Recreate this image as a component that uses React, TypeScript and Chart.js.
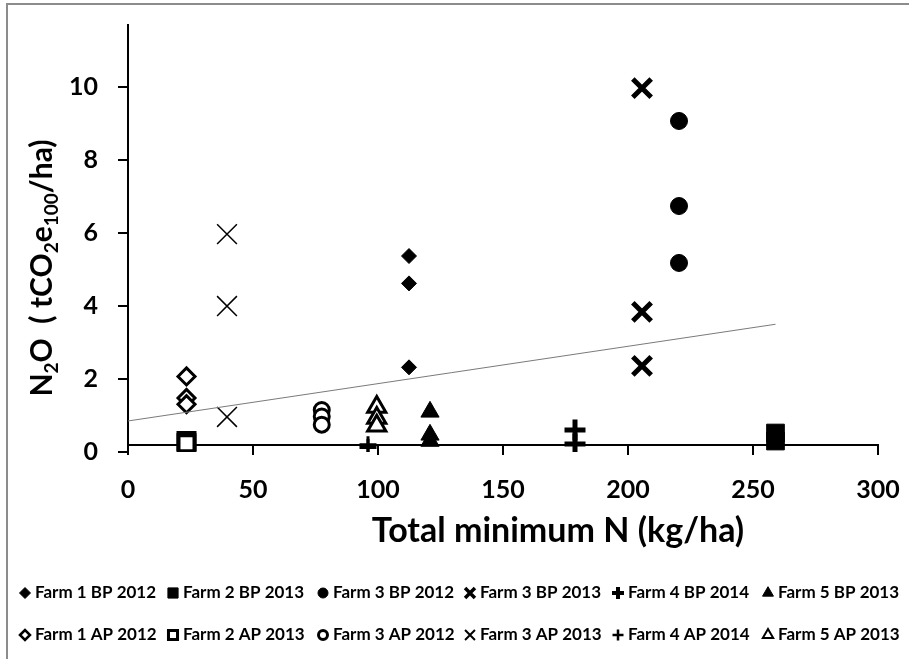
import React, { useEffect, useRef } from "react";
import { Chart, registerables } from "chart.js";
import { drawPoint } from "chart.js/helpers";

Chart.register(...registerables);

// ---- data ----
const xTickValues = [0, 50, 100, 150, 200, 250, 300];
const yTickValues = [0, 2, 4, 6, 8, 10];

const farm1BP2012X = 112.4;
const farm1BP2012Y = [5.37, 4.62, 2.32];
const farm2BP2013X = 259;
const farm2BP2013Y = [0.52, 0.3];
const farm3BP2012X = 220.4;
const farm3BP2012Y = [9.07, 6.74, 5.18];
const farm3BP2013X = 205.6;
const farm3BP2013Y = [9.97, 3.84, 2.36];
const farm4BP2014X = 178.8;
const farm4BP2014Y = [0.6, 0.22];
const farm5BP2013X = 120.8;
const farm5BP2013Y = [1.1, 0.47, 0.3];

const farm1AP2012X = 23.4;
const farm1AP2012Y = [2.07, 1.48, 1.31];
const farm2AP2013X = 23.4;
const farm2AP2013Y = [0.3, 0.24];
const farm3AP2012X = 77.5;
const farm3AP2012Y = [1.15, 0.97, 0.75];
const farm3AP2013X = 39.6;
const farm3AP2013Y = [5.97, 4.0, 0.96];
const farm4AP2014X = 96;
const farm4AP2014Y = [0.2, 0.12];
const farm5AP2013X = 99.5;
const farm5AP2013Y = [1.23, 0.93, 0.72];

const trendX = [0, 259];
const trendY = [0.85, 3.5];

const xTitle = "Total minimum N (kg/ha)";

const FONT = "Lato";

export default function App() {
  const ref = useRef<HTMLCanvasElement>(null);

  useEffect(() => {
    const canvas = ref.current;
    if (!canvas) return;
    const mk = (x: number, ys: number[]) => ys.map((y) => ({ x, y }));
    const K = "#000000";
    const W = "#ffffff";
    const ds = (
      label: string,
      data: { x: number; y: number }[],
      style: string,
      r: number,
      fill: string,
      bw: number,
      lr: number,
      lbw: number
    ) => ({
      label,
      data,
      pointStyle: style,
      pointRadius: r,
      pointHoverRadius: r,
      pointBackgroundColor: fill,
      pointBorderColor: K,
      pointBorderWidth: bw,
      backgroundColor: fill,
      borderColor: K,
      borderWidth: bw,
      showLine: false,
      legendRadius: lr,
      legendBorder: lbw,
    });

    const datasets: any[] = [
      {
        label: "trend",
        data: trendX.map((x, i) => ({ x, y: trendY[i] })),
        showLine: true,
        pointRadius: 0,
        borderColor: "#7a7a7a",
        borderWidth: 1,
        isTrend: true,
      },
      ds("Farm 1 BP 2012", mk(farm1BP2012X, farm1BP2012Y), "rectRot", 7.5, K, 1, 5.5, 1),
      ds("Farm 2 BP 2013", mk(farm2BP2013X, farm2BP2013Y), "rect", 12.5, K, 1, 7.2, 1),
      ds("Farm 3 BP 2012", mk(farm3BP2012X, farm3BP2012Y), "circle", 8.5, K, 1, 5, 1),
      ds("Farm 3 BP 2013", mk(farm3BP2013X, farm3BP2013Y), "crossRot", 13, K, 5, 7, 3.5),
      ds("Farm 4 BP 2014", mk(farm4BP2014X, farm4BP2014Y), "cross", 10.5, K, 5, 6, 4),
      ds("Farm 5 BP 2013", mk(farm5BP2013X, farm5BP2013Y), "triangle", 10.5, K, 1, 6.3, 1),
      ds("Farm 1 AP 2012", mk(farm1AP2012X, farm1AP2012Y), "rectRot", 8.5, W, 3, 5, 2.5),
      ds("Farm 2 AP 2013", mk(farm2AP2013X, farm2AP2013Y), "rect", 11.3, W, 4, 6.4, 3),
      ds("Farm 3 AP 2012", mk(farm3AP2012X, farm3AP2012Y), "circle", 7.5, W, 3, 4.5, 3),
      ds("Farm 3 AP 2013", mk(farm3AP2013X, farm3AP2013Y), "crossRot", 14, K, 1.5, 7, 2),
      ds("Farm 4 AP 2014", mk(farm4AP2014X, farm4AP2014Y), "cross", 8.5, K, 3, 5.5, 2.5),
      ds("Farm 5 AP 2013", mk(farm5AP2013X, farm5AP2013Y), "triangle", 10.5, W, 3, 6, 2),
    ];

    const legendCols = [35, 183, 333, 480, 628, 778];
    const legendRows = [593, 635];

    const decorPlugin = {
      id: "decor",
      afterDraw(chart: any) {
        const ctx = chart.ctx as CanvasRenderingContext2D;
        ctx.save();
        // legend grid
        let k = 0;
        chart.data.datasets.forEach((d: any) => {
          if (d.isTrend) return;
          const col = k % 6;
          const row = Math.floor(k / 6);
          k++;
          const tx = legendCols[col];
          const cy = legendRows[row];
          const cx = tx - 10;
          ctx.fillStyle = d.pointBackgroundColor;
          ctx.strokeStyle = d.pointBorderColor;
          ctx.lineWidth = d.legendBorder;
          drawPoint(
            ctx,
            { pointStyle: d.pointStyle, rotation: 0, radius: d.legendRadius, borderWidth: d.legendBorder } as any,
            cx,
            cy
          );
          ctx.fillStyle = "#000";
          ctx.font = `bold 17px ${FONT}`;
          ctx.textAlign = "left";
          ctx.textBaseline = "middle";
          ctx.fillText(d.label, tx, cy);
        });

        // x title
        ctx.fillStyle = "#000";
        ctx.font = `bold 34px ${FONT}`;
        ctx.textAlign = "center";
        ctx.textBaseline = "alphabetic";
        ctx.fillText(xTitle, 558, 542);

        // y title with subscripts
        const parts: [string, boolean][] = [
          ["N", false],
          ["2", true],
          ["O  ( tCO", false],
          ["2", true],
          ["e", false],
          ["100", true],
          ["/ha)", false],
        ];
        const big = `bold 30px ${FONT}`;
        const small = `bold 19px ${FONT}`;
        let total = 0;
        const widths = parts.map(([t, sub]) => {
          ctx.font = sub ? small : big;
          const w = ctx.measureText(t).width;
          total += w;
          return w;
        });
        ctx.translate(52, 268);
        ctx.rotate(-Math.PI / 2);
        ctx.textAlign = "left";
        let x = -total / 2;
        parts.forEach(([t, sub], i) => {
          ctx.font = sub ? small : big;
          ctx.fillText(t, x, sub ? 6 : 0);
          x += widths[i];
        });
        ctx.restore();
      },
    };

    const tickFont = { family: FONT, size: 25, weight: "bold" as const };
    const zeroPad = (s: any) => {
      s.paddingTop = 0;
      s.paddingBottom = 0;
      s.paddingLeft = 0;
      s.paddingRight = 0;
    };

    const chart = new Chart(canvas, {
      type: "scatter",
      data: { datasets },
      options: {
        animation: false,
        responsive: false,
        devicePixelRatio: 1,
        layout: { padding: { top: 25, left: 0, right: 31, bottom: 207 } },
        plugins: {
          legend: { display: false },
          tooltip: { enabled: false },
        },
        scales: {
          x: {
            type: "linear",
            min: 0,
            max: 300,
            position: { y: 0.2 } as any,
            afterBuildTicks: (s: any) => {
              s.ticks = xTickValues.map((v) => ({ value: v }));
            },
            afterFit: zeroPad,
            border: { display: true, color: "#000", width: 2 },
            grid: {
              drawOnChartArea: false,
              drawTicks: true,
              tickLength: 9,
              color: "#000",
              lineWidth: 2,
            },
            ticks: {
              color: "#000",
              font: tickFont,
              padding: 21,
              maxRotation: 0,
              autoSkip: false,
            },
          },
          y: {
            type: "linear",
            min: 0,
            max: 11.7,
            position: "left",
            afterBuildTicks: (s: any) => {
              s.ticks = yTickValues.map((v) => ({ value: v }));
            },
            afterFit: (s: any) => {
              s.width = 128;
              zeroPad(s);
            },
            border: { display: true, color: "#000", width: 2 },
            grid: {
              drawOnChartArea: false,
              drawTicks: true,
              tickLength: 10,
              color: "#000",
              lineWidth: 2,
            },
            ticks: {
              color: "#000",
              font: tickFont,
              padding: 20,
              autoSkip: false,
            },
          },
        },
      },
      plugins: [decorPlugin],
    });
    return () => chart.destroy();
  }, []);

  return (
    <div
      style={{
        position: "absolute",
        left: 0,
        top: 0,
        width: 909,
        height: 659,
        overflow: "hidden",
        background: "#fff",
      }}
    >
      <canvas ref={ref} width={909} height={659} style={{ display: "block" }} />
      <div
        style={{
          position: "absolute",
          left: 6,
          top: 3,
          width: 960,
          height: 720,
          border: "2px solid #8c8c8c",
          pointerEvents: "none",
        }}
      />
    </div>
  );
}
